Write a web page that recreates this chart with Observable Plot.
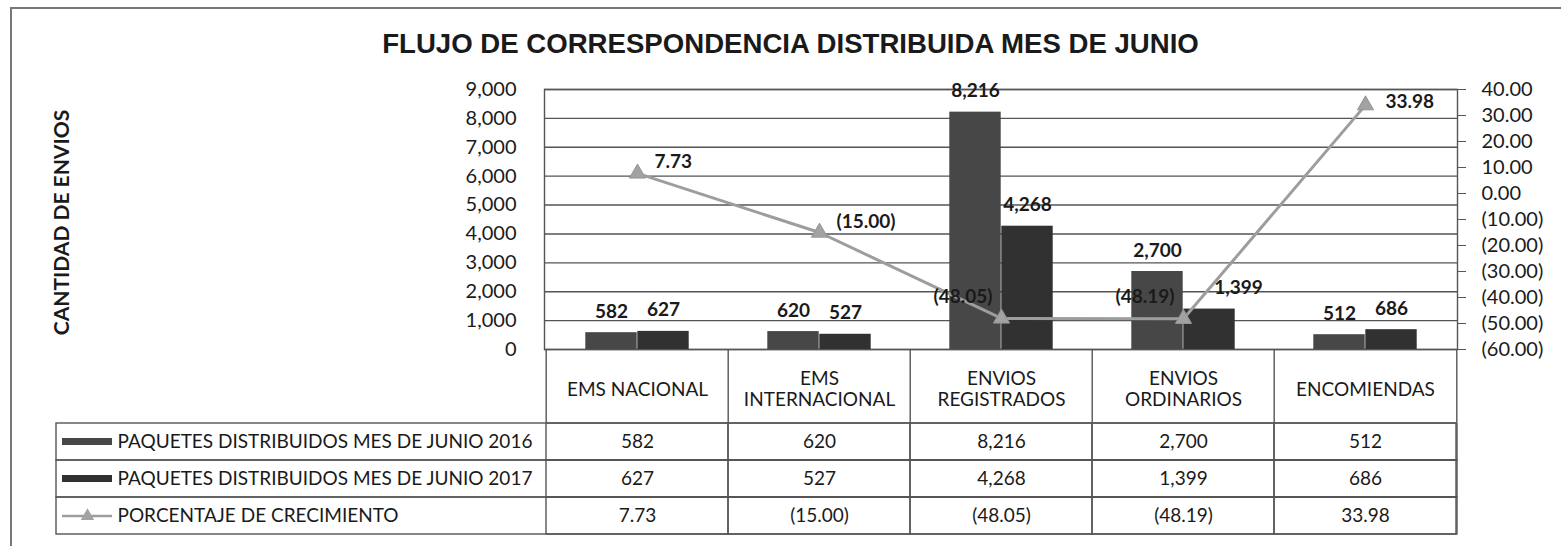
<!DOCTYPE html>
<html>
<head>
<meta charset="utf-8">
<script src="https://cdn.jsdelivr.net/npm/d3@7"></script>
<script src="https://cdn.jsdelivr.net/npm/@observablehq/plot@0.6"></script>
<style>
  html, body { margin: 0; padding: 0; background: #fff; }
  #wrap { position: relative; width: 1561px; height: 546px; overflow: hidden; background: #fff; }
  #border { position: absolute; left: 10px; top: 7px; width: 1700px; height: 700px;
            border-left: 2px solid #777; border-top: 2px solid #777; }
  #title { position: absolute; left: 10px; top: 30px; width: 1561px; text-align: center;
           font-family: "Liberation Sans", Arial, sans-serif; font-weight: bold; font-size: 27.6px;
           line-height: 27px; color: #1a1a1a; white-space: nowrap; }
  #chartA, #chartB { position: absolute; left: 0; }
  #chartA { top: 0; }
  #chartB { top: 421px; }
  svg { overflow: visible; }
</style>
</head>
<body>
<div id="wrap">
  <div id="border"></div>
  <div id="title">FLUJO DE CORRESPONDENCIA DISTRIBUIDA MES DE JUNIO</div>
  <div id="chartA"></div>
  <div id="chartB"></div>
</div>
<script>
// ---------- data ----------
const categories = ["EMS NACIONAL", "EMS INTERNACIONAL", "ENVIOS REGISTRADOS", "ENVIOS ORDINARIOS", "ENCOMIENDAS"];
const headerLabels = ["EMS NACIONAL", "EMS\nINTERNACIONAL", "ENVIOS\nREGISTRADOS", "ENVIOS\nORDINARIOS", "ENCOMIENDAS"];
const values2016 = [582, 620, 8216, 2700, 512];
const values2017 = [627, 527, 4268, 1399, 686];
const growthPct = [7.73, -15.00, -48.05, -48.19, 33.98];
const seriesNames = ["PAQUETES DISTRIBUIDOS MES DE JUNIO 2016", "PAQUETES DISTRIBUIDOS MES DE JUNIO 2017", "PORCENTAJE DE CRECIMIENTO"];
const leftTicks = [0, 1000, 2000, 3000, 4000, 5000, 6000, 7000, 8000, 9000];
const rightTicks = [-60, -50, -40, -30, -20, -10, 0, 10, 20, 30, 40];
const yTitle = "CANTIDAD DE ENVIOS";

// ---------- helpers ----------
const fmtInt = d3.format(",");
const fmt2 = d3.format(".2f");
const fmtPct = p => (p < -1e-9 ? `(${fmt2(-p)})` : fmt2(Math.abs(p) < 1e-9 ? 0 : p));
const leftMax = 9000, pctMin = -60, pctMax = 40;
const pctToY = p => (p - pctMin) / (pctMax - pctMin) * leftMax;
const yToPct = v => Math.round((v / leftMax * (pctMax - pctMin) + pctMin) * 100) / 100;

const bars2016 = categories.map((cat, i) => ({cat, v: values2016[i]}));
const bars2017 = categories.map((cat, i) => ({cat, v: values2017[i]}));
const growth = categories.map((cat, i) => ({cat, p: growthPct[i], i}));

// ---------- layout ----------
const W = 1561, ML = 544, MR = 104;
const HA = 422, MT = 89, MB = 73;
const frameH = HA - MT - MB;
const bw = (W - ML - MR) / categories.length;
const barW = 52;
const outer = (bw - 2 * barW) / 2;
const grid = "#555";
const ink = "#1a1a1a";
const lineGray = "#9d9d9d";
const c2016 = "#474747", c2017 = "#313131";

const chartA = Plot.plot({
  width: W, height: HA,
  marginTop: MT, marginBottom: MB, marginLeft: ML, marginRight: MR,
  style: {fontFamily: "Lato, sans-serif", fontSize: "20px", color: ink, background: "transparent", overflow: "visible"},
  x: {type: "band", domain: categories, padding: 0, axis: null},
  y: {domain: [0, leftMax], axis: null, label: null},
  marks: [
    Plot.ruleY(leftTicks, {stroke: grid, strokeWidth: 1.4}),
    Plot.frame({stroke: grid, strokeWidth: 1.4}),
    Plot.barY(bars2016, {x: "cat", y: "v", fill: c2016, insetLeft: outer, insetRight: bw - outer - barW}),
    Plot.barY(bars2017, {x: "cat", y: "v", fill: c2017, insetLeft: outer + barW, insetRight: outer}),
    Plot.line(growth, {x: "cat", y: d => pctToY(d.p), stroke: lineGray, strokeWidth: 3}),
    Plot.dot(growth, {x: "cat", y: d => pctToY(d.p), symbol: "triangle", r: 6, fill: "#a2a2a2", stroke: "#959595", strokeWidth: 1}),
    // bar labels
    Plot.text(bars2016, {x: "cat", y: "v", text: d => fmtInt(d.v), dx: -barW / 2, dy: -21, fontWeight: "bold", fontSize: 19, fill: ink}),
    Plot.text(bars2017.filter(d => d.cat !== "ENVIOS ORDINARIOS"), {x: "cat", y: "v", text: d => fmtInt(d.v), dx: barW / 2, dy: -21, fontWeight: "bold", fontSize: 19, fill: ink}),
    Plot.text(bars2017.filter(d => d.cat === "ENVIOS ORDINARIOS"), {x: "cat", y: "v", text: d => fmtInt(d.v), dx: barW / 2 + 29, dy: -21, fontWeight: "bold", fontSize: 19, fill: ink}),
    // line labels
    Plot.text(growth.filter(d => d.i === 0 || d.i === 1), {x: "cat", y: d => pctToY(d.p), text: d => fmtPct(d.p), dx: 17, dy: -11, textAnchor: "start", fontWeight: "bold", fontSize: 19, fill: ink}),
    Plot.text(growth.filter(d => d.i === 4), {x: "cat", y: d => pctToY(d.p), text: d => fmtPct(d.p), dx: 20, dy: -3, textAnchor: "start", fontWeight: "bold", fontSize: 19, fill: ink}),
    Plot.text(growth.filter(d => d.i === 2 || d.i === 3), {x: "cat", y: d => pctToY(d.p), text: d => fmtPct(d.p), dx: -9, dy: -22, textAnchor: "end", fontWeight: "bold", fontSize: 19, fill: ink}),
    // axes
    Plot.axisY(leftTicks, {anchor: "left", tickSize: 0, tickPadding: 28, tickFormat: fmtInt, fontSize: 20, label: null, fill: ink}),
    Plot.axisY(rightTicks.map(pctToY), {anchor: "right", tickSize: 8, tickPadding: 16, stroke: grid, tickFormat: v => fmtPct(yToPct(v)), fontSize: 20, label: null, fill: ink}),
    // header row of the data table
    Plot.ruleX(categories, {x: d => d, dx: -bw / 2, insetTop: frameH, insetBottom: -MB, stroke: grid, strokeWidth: 1.4}),
    Plot.ruleX(categories.slice(-1), {x: d => d, dx: bw / 2, insetTop: frameH, insetBottom: -MB, stroke: grid, strokeWidth: 1.4}),
    Plot.text(categories, {x: d => d, text: (d, i) => headerLabels[i], frameAnchor: "bottom", dy: 39, lineAnchor: "middle", lineHeight: 1.15, fontSize: 19, fill: ink}),
    // y title
    Plot.text([yTitle], {frameAnchor: "left", dx: -(ML - 62), dy: 3, rotate: -90, textAnchor: "middle", lineAnchor: "middle", fontWeight: "bold", fontSize: 21, fill: ink})
  ]
});
document.getElementById("chartA").appendChild(chartA);

// ---------- table rows ----------
const rowKeys = ["r2016", "r2017", "pct"];
const rowValues = [values2016.map(fmtInt), values2017.map(fmtInt), growthPct.map(fmtPct)];
const tableCells = rowKeys.flatMap((row, r) => categories.map((cat, i) => ({row, cat, label: rowValues[r][i]})));
const legendRows = rowKeys.map((row, r) => ({row, name: seriesNames[r]}));
const LB = 56;           // left edge of the legend column
const swL = 6, swR = 112; // swatch from LB+swL to swR

const chartB = Plot.plot({
  width: W, height: 116,
  marginTop: 1, marginBottom: 2, marginLeft: LB, marginRight: MR,
  style: {fontFamily: "Lato, sans-serif", fontSize: "19px", color: ink, background: "transparent", overflow: "visible"},
  x: {type: "band", domain: categories, range: [ML, W - MR], padding: 0, axis: null},
  y: {type: "band", domain: rowKeys, padding: 0, axis: null},
  marks: [
    Plot.cell(legendRows, {y: "row", fill: "none", stroke: grid, strokeWidth: 1.4}),
    Plot.cell(tableCells, {x: "cat", y: "row", fill: "none", stroke: grid, strokeWidth: 1.4}),
    Plot.text(tableCells, {x: "cat", y: "row", text: "label", fontSize: 19, fill: ink}),
    Plot.text(legendRows, {y: "row", text: "name", frameAnchor: "left", dx: 61, textAnchor: "start", fontSize: 19, fill: ink}),
    Plot.cell(legendRows.slice(0, 1), {y: "row", fill: c2016, insetLeft: swL, insetRight: W - MR - swR, insetTop: 15, insetBottom: 15}),
    Plot.cell(legendRows.slice(1, 2), {y: "row", fill: c2017, insetLeft: swL, insetRight: W - MR - swR, insetTop: 15, insetBottom: 15}),
    Plot.ruleY(legendRows.slice(2), {y: "row", insetLeft: swL, insetRight: W - MR - swR, stroke: lineGray, strokeWidth: 2.5}),
    Plot.dot(legendRows.slice(2), {y: "row", frameAnchor: "left", dx: (swL + swR - LB) / 2, symbol: "triangle", r: 5, fill: "#a2a2a2"})
  ]
});
document.getElementById("chartB").appendChild(chartB);
</script>
</body>
</html>
